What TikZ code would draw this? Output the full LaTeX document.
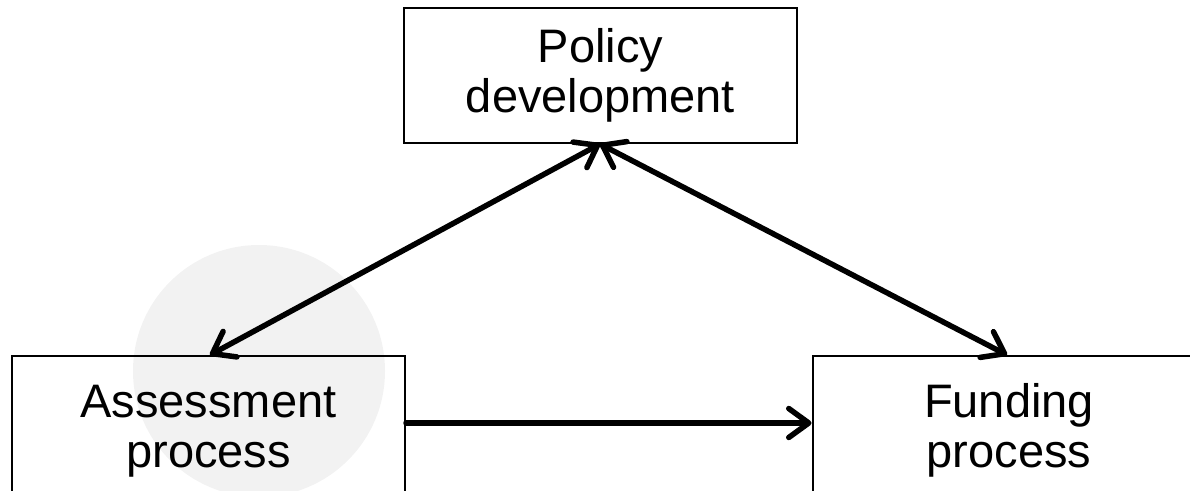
\documentclass[tikz,border=0pt]{standalone}
\usepackage{fontspec}
\setmainfont{Liberation Sans}
\usetikzlibrary{arrows.meta}
\begin{document}
\begin{tikzpicture}[x=1pt,y=1pt,
  stagebox/.style={draw=black, line width=2pt, minimum width=393pt, minimum height=135pt,
    inner sep=0pt, align=center, font=\fontsize{47}{50}\selectfont},
  lowbox/.style={stagebox, minimum height=150pt},
  barb/.tip={Straight Barb[length=20pt,width=29pt,line cap=round,line join=round]},
  link/.style={line width=5.5pt, line cap=round, line join=round, barb-barb},
  onelink/.style={line width=5.5pt, line cap=round, line join=round, -barb}]
\useasboundingbox (0,0) rectangle (1190,490);
\clip (0,0) rectangle (1190,490);
% soft highlight behind the assessment stage
\fill[black!5] (259,119) circle[radius=126];
% the three stages
\node[stagebox] (policy) at (600.5,414.5) {Policy\\development};
\node[lowbox] (assess) at (208.5,59) {Assessment\\process};
\node[lowbox] (fund) at (1009,59.5) {Funding\\process};
% arrow end points on the box edges
\coordinate (ptip) at (600,346);
\coordinate (atip) at (210,135);
\coordinate (ftip) at (1007,135);
\draw[link] (ptip) -- (atip);
\draw[link] (ptip) -- (ftip);
\draw[onelink] (assess.east |- 0,67) -- (fund.west |- 0,67);
\end{tikzpicture}
\end{document}
